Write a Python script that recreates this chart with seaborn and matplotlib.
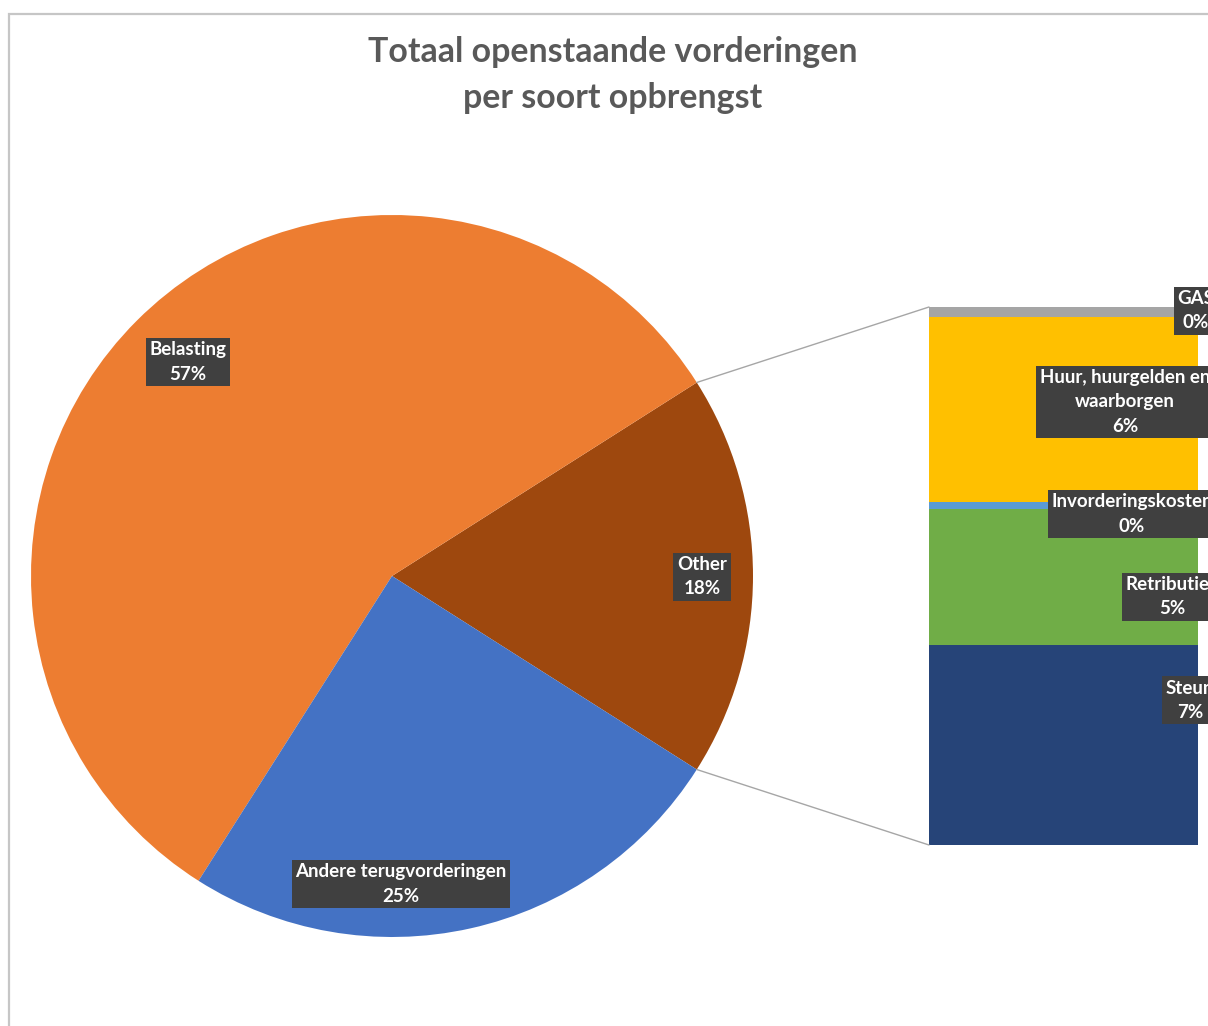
import numpy as np
import matplotlib
matplotlib.use("Agg")
import matplotlib.pyplot as plt
from matplotlib.patches import Rectangle, ConnectionPatch
import seaborn as sns

# --- data (percent of total outstanding claims) ---
pie_labels = ["Other", "Belasting", "Andere terugvorderingen"]
bar_labels = ["Steun", "Retributies", "Invorderingskosten",
              "Huur, huurgelden en\nwaarborgen", "GAS"]
bar_values = [6.70, 4.55, 0.23, 6.20, 0.33]
belasting_value = 57.0
andere_value = 25.0

pie_colors = ["#9E480E", "#ED7D31", "#4472C4"]
bar_colors = ["#264478", "#70AD47", "#5B9BD5", "#FFC000", "#A5A5A5"]

other_value = sum(bar_values)
pie_values = [other_value, belasting_value, andere_value]
total = sum(pie_values)

sns.set_theme(style="white")
plt.rcParams["font.family"] = ["Lato", "DejaVu Sans"]

W, H = 1208, 1026
fig = plt.figure(figsize=(W / 100, H / 100), dpi=100)
ax = fig.add_axes([0, 0, 1, 1])

# chart area border (cropped at right and bottom)
ax.add_patch(Rectangle((9, -50), 1400, H - 14 + 50, fill=False,
                       edgecolor="#C6C6C6", lw=1.6))

# pie
cx, cy, r = 392, H - 576, 361
start = -other_value / total * 360 / 2
wedges, _ = ax.pie(pie_values, colors=pie_colors, startangle=start,
                   counterclock=True, center=(cx, cy), radius=r, frame=True,
                   wedgeprops=dict(linewidth=0))
ax.set_xlim(0, W)
ax.set_ylim(0, H)
ax.axis("off")

# stacked bar for "Other"
bx0, bx1, by_top, by_bot = 929, 1198, 307, 845
bax = fig.add_axes([bx0 / W, (H - by_bot) / H, (bx1 - bx0) / W, (by_bot - by_top) / H])
bottoms = np.concatenate([[0], np.cumsum(bar_values)[:-1]])
bax.bar([0] * len(bar_values), bar_values, bottom=bottoms, width=1.0,
        color=bar_colors, linewidth=0)
bax.set_xlim(-0.5, 0.5)
bax.set_ylim(0, other_value)
bax.axis("off")

# connector lines
theta = np.deg2rad(start)
for sgn, yb in [(1, other_value), (-1, 0)]:
    pA = (cx + r * np.cos(theta), cy - sgn * r * np.sin(theta))
    con = ConnectionPatch(xyA=pA, coordsA=ax.transData, xyB=(-0.5, yb),
                          coordsB=bax.transData, color="#A6A6A6", lw=1.0)
    fig.add_artist(con)

# data labels (figure-level so they sit above both axes)
box = dict(boxstyle="square,pad=0.2", facecolor="#404040", edgecolor="none")
lab_kw = dict(ha="center", va="center", color="white", fontsize=13.5,
              fontweight="bold", linespacing=1.5, bbox=box,
              transform=ax.transData)

pie_label_pos = [(702, 577), (188, 362), (401, 884)]
bar_label_pos = [(1190, 700), (1172, 597), (1132, 514), (1125, 402), (1196, 311)]
for name, v, (x, y) in zip(pie_labels + bar_labels, pie_values + bar_values,
                           pie_label_pos + bar_label_pos):
    fig.text(x, H - y, f"{name}\n{v / total * 100:.0f}%", **lab_kw)

# title
ax.text(613, H - 75, "Totaal openstaande vorderingen\nper soort opbrengst",
        ha="center", va="center", fontsize=24.4, fontweight="bold",
        color="#595959", linespacing=1.55)

fig.savefig("out.png", dpi=100)
